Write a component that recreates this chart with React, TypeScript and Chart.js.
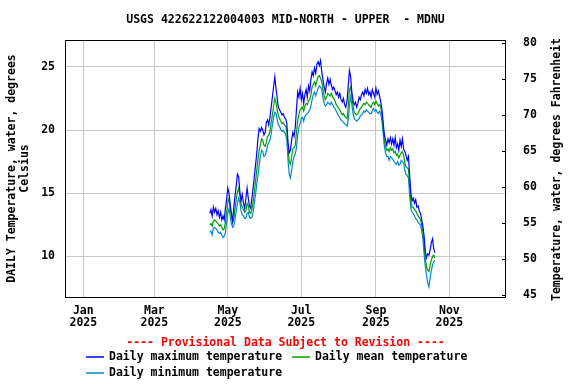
import React, { useEffect, useRef } from 'react';
import { Chart, registerables } from 'chart.js';

Chart.register(...registerables);

const TITLE = 'USGS 422622122004003 MID-NORTH - UPPER  - MDNU';
const PROVISIONAL = '---- Provisional Data Subject to Revision ----';
const LEFT_TITLE = ['DAILY Temperature, water, degrees', 'Celsius'];
const RIGHT_TITLE = 'Temperature, water, degrees Fahrenheit';

const SERIES_NAMES = ['Daily maximum temperature', 'Daily mean temperature', 'Daily minimum temperature'];
const SERIES_COLORS = ['#0000ff', '#00a000', '#0088d0'];

// x axis is in days since 2025-01-01
const X_MIN = -15.2;
const X_MAX = 351;
const MONTH_TICK_DAYS = [0, 59, 120, 181, 243, 304];
const MONTH_TICK_LABELS = [
  ['Jan', '2025'],
  ['Mar', '2025'],
  ['May', '2025'],
  ['Jul', '2025'],
  ['Sep', '2025'],
  ['Nov', '2025'],
];

const C_TICKS = [10, 15, 20, 25];
const F_TICKS = [45, 50, 55, 60, 65, 70, 75, 80];
const C_MIN = 6.79;
const C_MAX = 27.12;
const F_MIN = 44.72;
const F_MAX = 80.46;

// first value is 2025-04-16 (day 105), one value per day
const FIRST_DAY = 105;

const MAX_T = [
  13.4, 13.7, 13.2, 13.9, 13.5, 13.8, 13.3, 13.6, 13.1, 13.5,
  12.9, 13.2, 12.9, 13.8, 14.5, 15.4, 15.0, 14.1, 13.4, 12.8,
  13.9, 14.8, 15.6, 16.5, 16.3, 15.1, 14.4, 14.9, 14.2, 13.8,
  14.6, 15.4, 14.6, 14.0, 13.8, 14.6, 15.4, 16.3, 17.2, 18.1,
  19.3, 20.1, 19.9, 20.2, 20.0, 19.6, 19.8, 20.6, 20.8, 20.4,
  21.0, 21.8, 22.6, 23.4, 24.2, 23.3, 22.5, 21.8, 21.6, 21.4,
  21.2, 21.3, 21.0, 20.9, 20.5, 19.0, 18.2, 18.4, 19.2, 19.8,
  19.5, 20.2, 21.6, 23.0, 22.6, 23.3, 22.4, 22.9, 22.1, 22.8,
  23.2, 22.6, 23.5, 23.1, 24.0, 24.6, 24.3, 24.9, 24.5, 25.2,
  25.4, 25.1, 25.5, 24.6, 24.0, 23.4, 23.0, 23.7, 24.1, 23.6,
  24.0, 23.5, 23.2, 23.4, 23.1, 22.8, 23.0, 22.6, 22.9, 22.4,
  22.2, 22.5, 22.0, 21.8, 22.3, 23.5, 24.7, 24.2, 23.0, 22.3,
  22.0, 22.2, 21.8, 22.1, 22.6, 22.4, 22.8, 23.0, 22.7, 23.2,
  22.9, 23.3, 22.8, 23.0, 22.6, 23.2, 22.9, 22.6, 23.3, 22.8,
  23.1, 22.7, 22.2, 21.6, 20.6, 19.6, 19.2, 18.8, 19.3, 19.0,
  19.4, 18.9, 19.3, 18.8, 19.4, 18.6, 18.9, 18.4, 19.2, 18.7,
  19.3, 18.5, 18.3, 18.0, 17.6, 17.9, 16.4, 15.0, 14.4, 14.6,
  14.2, 14.5, 13.9, 14.0, 13.6, 13.4, 12.9, 12.4, 11.6, 10.4,
  9.9, 10.2, 10.1, 10.5, 11.1, 11.4, 10.6, 10.3,
];

const MEAN_T = [
  12.5, 12.6, 12.4, 12.8, 12.9, 12.8, 12.7, 12.6, 12.4, 12.5,
  12.3, 12.1, 12.2, 12.7, 13.5, 14.3, 14.6, 13.8, 13.1, 12.7,
  13.0, 13.8, 14.5, 15.1, 15.4, 14.8, 14.1, 13.9, 13.7, 13.5,
  13.6, 14.2, 14.0, 13.5, 13.4, 13.7, 14.3, 15.1, 15.9, 16.8,
  17.6, 18.4, 18.8, 19.3, 19.2, 18.8, 18.7, 19.0, 19.5, 19.6,
  19.9, 20.6, 21.2, 21.9, 22.5, 22.2, 21.6, 21.1, 20.9, 20.7,
  20.5, 20.6, 20.4, 20.3, 19.9, 18.6, 17.5, 17.3, 17.9, 18.5,
  18.6, 18.8, 19.8, 20.7, 21.2, 21.6, 21.7, 21.8, 21.5, 21.9,
  22.1, 22.0, 22.3, 22.4, 22.8, 23.4, 23.6, 23.8, 23.5, 23.9,
  24.2, 24.3, 24.1, 23.8, 23.2, 22.7, 22.4, 22.6, 22.9, 22.8,
  22.7, 22.9, 22.6, 22.5, 22.3, 22.0, 21.9, 21.7, 21.6, 21.4,
  21.2, 21.3, 21.1, 21.0, 20.9, 21.8, 23.2, 23.4, 22.6, 21.9,
  21.4, 21.3, 21.2, 21.3, 21.5, 21.7, 21.8, 22.0, 22.1, 22.0,
  22.2, 22.1, 22.0, 21.9, 21.8, 22.1, 22.2, 22.0, 22.3, 22.1,
  21.9, 22.0, 21.8, 21.2, 20.2, 19.2, 18.7, 18.4, 18.5, 18.3,
  18.6, 18.4, 18.5, 18.2, 18.3, 18.0, 18.1, 17.8, 18.0, 18.2,
  18.3, 18.0, 17.4, 17.1, 17.0, 16.9, 15.6, 14.3, 13.9, 13.9,
  13.7, 13.6, 13.4, 13.2, 13.1, 12.9, 12.5, 11.9, 10.9, 9.8,
  9.2, 8.9, 8.8, 9.3, 9.7, 10.0, 10.1, 9.9,
];

const MIN_T = [
  11.9, 12.0, 11.7, 12.2, 12.3, 12.2, 12.1, 11.9, 11.8, 11.9,
  11.7, 11.5, 11.6, 11.9, 12.7, 13.4, 13.8, 13.2, 12.6, 12.3,
  12.4, 12.9, 13.6, 14.2, 14.6, 14.3, 13.6, 13.3, 13.2, 13.0,
  13.0, 13.4, 13.5, 13.1, 13.0, 13.1, 13.5, 14.2, 14.9, 15.7,
  16.4, 17.2, 17.9, 18.4, 18.3, 17.9, 18.0, 18.3, 18.8, 19.0,
  19.2, 19.7, 20.4, 21.0, 21.4, 21.3, 20.8, 20.4, 20.3, 20.0,
  19.9, 20.0, 19.8, 19.7, 19.2, 17.6, 16.5, 16.2, 16.8, 17.5,
  17.9, 18.1, 18.6, 19.6, 20.2, 20.5, 20.9, 21.0, 20.7, 21.1,
  21.2, 21.3, 21.4, 21.6, 21.9, 22.4, 22.8, 23.0, 22.7, 23.0,
  23.3, 23.5, 23.4, 23.2, 22.6, 22.1, 21.9, 22.0, 22.2, 22.1,
  22.0, 22.2, 22.0, 21.8, 21.7, 21.5, 21.3, 21.1, 21.0, 20.8,
  20.7, 20.6, 20.5, 20.4, 20.3, 20.8, 22.0, 22.6, 22.0, 21.3,
  20.9, 20.8, 20.7, 20.8, 20.9, 21.1, 21.2, 21.3, 21.5, 21.4,
  21.6, 21.5, 21.4, 21.3, 21.3, 21.5, 21.7, 21.5, 21.6, 21.4,
  21.3, 21.5, 21.3, 20.7, 19.7, 18.7, 18.2, 17.9, 17.9, 17.6,
  17.9, 17.8, 17.7, 17.5, 17.4, 17.3, 17.5, 17.2, 17.3, 17.6,
  17.5, 17.4, 16.8, 16.5, 16.4, 16.2, 14.8, 13.8, 13.5, 13.4,
  13.2, 13.0, 12.9, 12.7, 12.6, 12.5, 12.0, 11.4, 10.2, 9.2,
  8.5, 7.9, 7.6, 8.3, 8.9, 9.3, 9.6, 9.7,
];

const FONT_FAMILY = '"DejaVu Sans Mono", monospace';
const FONT = `bold 11.5px ${FONT_FAMILY}`;

function toPoints(values: number[]) {
  return values.map((v, i) => ({ x: FIRST_DAY + i, y: v }));
}

const decorPlugin = {
  id: 'usgsDecor',
  afterDraw(chart: any) {
    const ctx = chart.ctx as CanvasRenderingContext2D;
    const a = chart.chartArea;
    const cx = (a.left + a.right) / 2;
    const cy = (a.top + a.bottom) / 2;
    ctx.save();
    ctx.font = FONT;
    ctx.fillStyle = '#000';
    ctx.textAlign = 'center';
    ctx.textBaseline = 'middle';
    ctx.fillText(TITLE, cx, 20);

    // frame
    ctx.strokeStyle = '#000';
    ctx.lineWidth = 1;
    ctx.strokeRect(a.left + 0.5, a.top + 0.5, a.right - a.left - 1, a.bottom - a.top);

    // inward tick marks on the right (Fahrenheit) axis
    const y2 = chart.scales.y2;
    ctx.beginPath();
    F_TICKS.forEach((v) => {
      const py = Math.round(y2.getPixelForValue(v)) + 0.5;
      ctx.moveTo(a.right - 4, py);
      ctx.lineTo(a.right, py);
    });
    ctx.stroke();

    // left axis title (two lines)
    ctx.save();
    ctx.translate(12, cy);
    ctx.rotate(-Math.PI / 2);
    ctx.fillText(LEFT_TITLE[0], 0, 0);
    ctx.fillText(LEFT_TITLE[1], 0, 13);
    ctx.restore();

    // right axis title
    ctx.save();
    ctx.translate(557, cy + 1);
    ctx.rotate(-Math.PI / 2);
    ctx.fillText(RIGHT_TITLE, 0, 0);
    ctx.restore();

    // provisional note
    ctx.fillStyle = '#ff0000';
    ctx.fillText(PROVISIONAL, cx, 343);

    // legend
    ctx.textAlign = 'left';
    ctx.fillStyle = '#000';
    const items = [
      { lx: 86, ty: 357 },
      { lx: 292, ty: 357 },
      { lx: 86, ty: 373 },
    ];
    items.forEach((it, i) => {
      ctx.strokeStyle = SERIES_COLORS[i];
      ctx.lineWidth = 1.5;
      ctx.beginPath();
      ctx.moveTo(it.lx, it.ty);
      ctx.lineTo(it.lx + 18, it.ty);
      ctx.stroke();
      ctx.fillText(SERIES_NAMES[i], it.lx + 23, it.ty);
    });
    ctx.restore();
  },
};

export default function App() {
  const ref = useRef<HTMLCanvasElement | null>(null);

  useEffect(() => {
    const canvas = ref.current;
    if (!canvas) return;
    const font = { family: FONT_FAMILY, size: 11.5, weight: 'bold' as const };
    const chart = new Chart(canvas, {
      type: 'line',
      data: {
        datasets: [
          { label: SERIES_NAMES[0], data: toPoints(MAX_T), borderColor: SERIES_COLORS[0] },
          { label: SERIES_NAMES[1], data: toPoints(MEAN_T), borderColor: SERIES_COLORS[1] },
          { label: SERIES_NAMES[2], data: toPoints(MIN_T), borderColor: SERIES_COLORS[2] },
        ].map((d) => ({
          ...d,
          borderWidth: 1.2,
          pointRadius: 0,
          tension: 0,
          fill: false,
          yAxisID: 'y',
        })),
      },
      options: {
        animation: false,
        responsive: false,
        devicePixelRatio: 1,
        layout: { padding: { top: 40, left: 0, right: 0, bottom: 0 } },
        plugins: {
          legend: { display: false },
          title: { display: false },
          tooltip: { enabled: false },
        },
        scales: {
          x: {
            type: 'linear',
            min: X_MIN,
            max: X_MAX,
            afterBuildTicks: (s: any) => {
              s.ticks = MONTH_TICK_DAYS.map((v) => ({ value: v }));
            },
            afterFit: (s: any) => {
              s.height = 87;
            },
            ticks: {
              autoSkip: false,
              maxRotation: 0,
              padding: 8,
              color: '#000',
              font: { ...font, lineHeight: 1.07 },
              callback: (_v: any, i: number) => MONTH_TICK_LABELS[i],
            },
            grid: { color: '#c8c8c8', drawTicks: false },
            border: { display: false },
          },
          y: {
            position: 'left',
            min: C_MIN,
            max: C_MAX,
            afterBuildTicks: (s: any) => {
              s.ticks = C_TICKS.map((v) => ({ value: v }));
            },
            afterFit: (s: any) => {
              s.width = 65;
            },
            ticks: { padding: 10, color: '#000', font, callback: (v: any) => String(v) },
            grid: { color: '#c8c8c8', drawTicks: false },
            border: { display: false },
          },
          y2: {
            position: 'right',
            min: F_MIN,
            max: F_MAX,
            afterBuildTicks: (s: any) => {
              s.ticks = F_TICKS.map((v) => ({ value: v }));
            },
            afterFit: (s: any) => {
              s.width = 70;
            },
            ticks: { padding: 17, color: '#000', font, callback: (v: any) => String(v) },
            grid: { display: false, drawTicks: false },
            border: { display: false },
          },
        },
      },
      plugins: [decorPlugin],
    } as any);
    return () => chart.destroy();
  }, []);

  return (
    <div style={{ position: 'fixed', left: 0, top: 0, width: 576, height: 384, background: '#fff' }}>
      <canvas ref={ref} width={576} height={384} style={{ display: 'block', width: 576, height: 384 }} />
    </div>
  );
}
